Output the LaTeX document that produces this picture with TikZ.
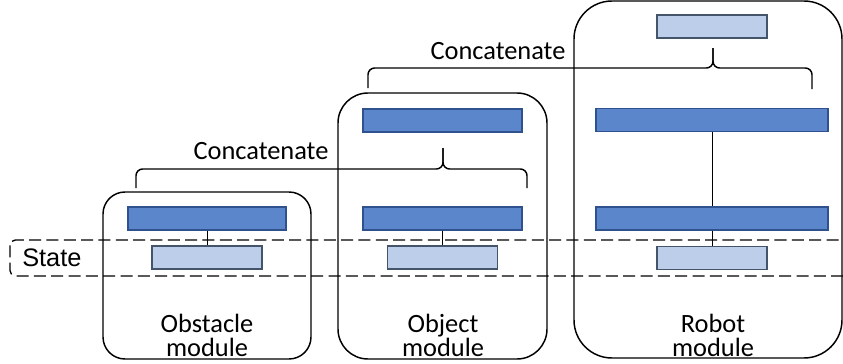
\documentclass[tikz,border=0pt]{standalone}
\usepackage{fontspec}
\setmainfont{Carlito}
\newfontfamily\arialfont{Liberation Sans}
\definecolor{darkfill}{HTML}{5B86CB}
\definecolor{darkline}{HTML}{2F528F}
\definecolor{lightfill}{HTML}{BDCEEA}
\definecolor{lightline}{HTML}{44546A}
\begin{document}
\begin{tikzpicture}[x=0.75pt,y=-0.75pt,
  darkbar/.style={draw=darkline,fill=darkfill,line width=0.8pt,inner sep=0pt,minimum height=17.25pt},
  lightbar/.style={draw=lightline,fill=lightfill,line width=0.8pt,inner sep=0pt,minimum height=17.25pt,minimum width=82.5pt},
  module/.style={draw=black,line width=1.1pt},
  link/.style={draw=black,line width=0.75pt},
  bracepath/.style={draw=black,line width=1.1pt,rounded corners=5pt},
  lbl/.style={font=\fontsize{19.8}{18}\selectfont,inner sep=0pt,align=center},
  statebox/.style={draw=black,line width=1pt,dash pattern=on 9pt off 4pt,rounded corners=4pt}]
\useasboundingbox (0,0) rectangle (843,364);
\clip (0,0) rectangle (843,364);
% state band
\draw[statebox] (10,240) rectangle (880,276);
\node[anchor=base west,inner sep=0pt,font=\arialfont\fontsize{19}{22}\selectfont] (state) at (22,266) {State};
% module boxes
\draw[module,rounded corners=22pt*0.75] (103,192) rectangle (311,359);
\draw[module,rounded corners=30pt*0.75] (338,93) rectangle (547,359);
\draw[module,rounded corners=38pt*0.75] (574,1) rectangle (842,358);
% obstacle module
\node[darkbar,minimum width=118.5pt] (obsD) at (207,218.5) {};
\node[lightbar] (obsL) at (207,257.5) {};
\draw[link] (obsD.south) -- (obsL.north);
% object module
\node[darkbar,minimum width=119.25pt] (objT) at (442.5,120.5) {};
\node[darkbar,minimum width=119.25pt] (objD) at (442.5,218.5) {};
\node[lightbar] (objL) at (442.5,257.5) {};
\draw[link] (objD.south) -- (objL.north);
% robot module
\node[lightbar] (robT) at (712,26.5) {};
\node[darkbar,minimum width=174pt] (robD1) at (712,120) {};
\node[darkbar,minimum width=174pt] (robD2) at (712,218.5) {};
\node[lightbar] (robL) at (712,258) {};
\draw[link] (robD1.south) -- (robD2.north);
\draw[link] (robD2.south) -- (robL.north);
% lower brace
\coordinate (b1l) at (136,188);
\coordinate (b1t) at (443,148);
\coordinate (b1r) at (527,188);
\draw[bracepath] (b1l) -- (136,169) -- (443,169) -- (b1t);
\draw[bracepath] (b1t) -- (443,169) -- (527,169) -- (b1r);
\node[lbl,anchor=base] (cat1) at (261,159) {Concatenate};
% upper brace
\coordinate (b2l) at (368,88);
\coordinate (b2t) at (713,48);
\coordinate (b2r) at (812,89);
\draw[bracepath] (b2l) -- (368,68) -- (713,68) -- (b2t);
\draw[bracepath] (b2t) -- (713,68) -- (812,68) -- (b2r);
\node[lbl,anchor=base] (cat2) at (498,59) {Concatenate};
% module labels
\node[lbl] (obsT) at (207,335) {Obstacle\\module};
\node[lbl] (objTx) at (443,335) {Object\\module};
\node[lbl] (robTx) at (713,335) {Robot\\module};
\end{tikzpicture}
\end{document}
